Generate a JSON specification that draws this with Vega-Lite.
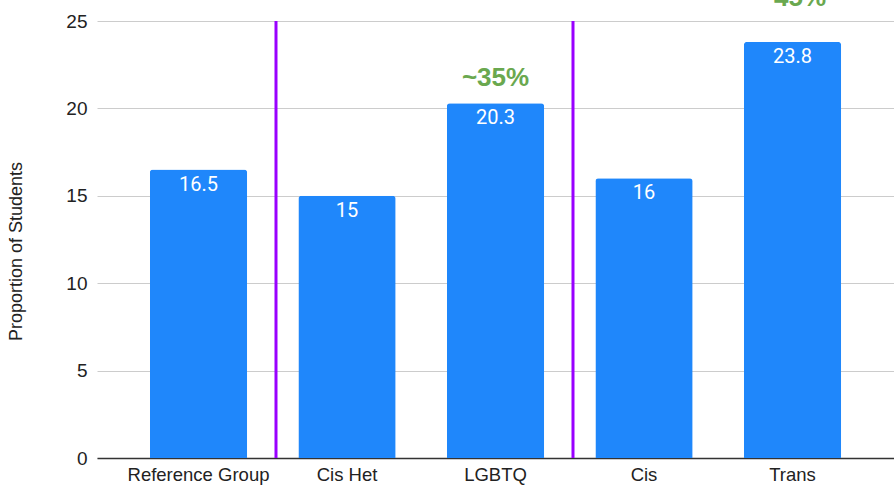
{
  "$schema": "https://vega.github.io/schema/vega-lite/v6.json",
  "width": 797,
  "height": 437,
  "autosize": {"type": "none"},
  "padding": {"left": 97, "top": 21, "right": 0, "bottom": 33},
  "background": "white",
  "config": {"view": {"stroke": null}, "font": "Liberation Sans"},
  "datasets": {
    "bars": [
      {"group": "Reference Group", "value": 16.5},
      {"group": "Cis Het", "value": 15},
      {"group": "LGBTQ", "value": 20.3},
      {"group": "Cis", "value": 16},
      {"group": "Trans", "value": 23.8}
    ],
    "notes": [
      {"group": "LGBTQ", "pos": 21.74, "note": "~35%"},
      {"group": "Trans", "pos": 26.3, "note": "~45%"}
    ],
    "dividers": [
      {"group": "Cis Het", "top": 25},
      {"group": "Cis", "top": 25}
    ]
  },
  "layer": [
    {
      "data": {"name": "bars"},
      "mark": {"type": "bar", "color": "#1f87fb", "cornerRadiusTopLeft": 3, "cornerRadiusTopRight": 3},
      "encoding": {
        "x": {
          "field": "group", "type": "nominal", "sort": null,
          "scale": {"paddingInner": 0.345, "paddingOuter": 0.356},
          "axis": {
            "title": null, "labelAngle": 0, "labelFontSize": 18.5, "labelColor": "#222222",
            "labelPadding": 7, "ticks": false, "domainColor": "#333333", "domainWidth": 1.5,
            "labelFont": "Liberation Sans"
          }
        },
        "y": {
          "field": "value", "type": "quantitative",
          "scale": {"domain": [0, 25], "nice": false},
          "axis": {
            "title": "Proportion of Students", "titleFontSize": 18, "titleFontWeight": "normal",
            "titleColor": "#222222", "titleX": -72, "titleY": 230,
            "values": [0, 5, 10, 15, 20, 25], "labelFontSize": 19, "labelColor": "#222222",
            "labelPadding": 10, "ticks": false, "domain": false,
            "gridColor": "#cccccc", "gridWidth": 1
          }
        }
      }
    },
    {
      "data": {"name": "bars"},
      "mark": {"type": "text", "color": "white", "fontSize": 20, "font": "Roboto", "baseline": "middle", "dy": 15},
      "encoding": {
        "x": {"field": "group", "type": "nominal", "sort": null},
        "y": {"field": "value", "type": "quantitative"},
        "text": {"field": "value", "type": "quantitative"}
      }
    },
    {
      "data": {"name": "notes"},
      "mark": {"type": "text", "color": "#6aa84f", "fontSize": 26, "fontWeight": "bold", "font": "Liberation Sans", "baseline": "middle"},
      "encoding": {
        "x": {"field": "group", "type": "nominal", "sort": null},
        "y": {"field": "pos", "type": "quantitative"},
        "text": {"field": "note", "type": "nominal"}
      }
    },
    {
      "data": {"name": "dividers"},
      "mark": {"type": "rule", "color": "#9900ff", "strokeWidth": 3},
      "encoding": {
        "x": {"field": "group", "type": "nominal", "sort": null, "bandPosition": -0.23},
        "y": {"field": "top", "type": "quantitative"},
        "y2": {"datum": 0}
      }
    }
  ]
}
